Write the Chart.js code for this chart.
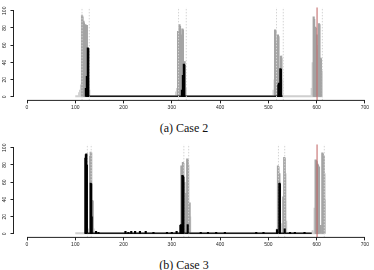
<!DOCTYPE html>
<html>
<head>
<meta charset="utf-8">
<script src="https://cdn.jsdelivr.net/npm/chart.js@4"></script>
<style>
  body { margin: 0; width: 374px; height: 270px; overflow: hidden; background: #fff; position: relative; }
  canvas { position: absolute; left: 0; }
  #c2 { top: 0; }
  #c3 { top: 137px; }
  .cap { position: absolute; left: 0; width: 368px; text-align: center; font: 12px "Liberation Serif", serif; color: #111; }
</style>
</head>
<body>
<canvas id="c2" width="374" height="115"></canvas>
<canvas id="c3" width="374" height="115"></canvas>
<div class="cap" style="top:121px">(a) Case 2</div>
<div class="cap" style="top:258px">(b) Case 3</div>
<script>
// axis ticks (same for both panels)
var xTicks = [0, 100, 200, 300, 400, 500, 600, 700];
var yTicks = [0, 20, 40, 60, 80, 100];

// case 2
var case2LightX = [108, 110, 112, 119, 121, 127, 129, 309, 311, 318, 320, 324, 327, 329, 511, 513, 520, 524, 527, 529, 590, 592, 600, 602, 604, 609, 611];
var case2LightY = [5, 8, 14, 24, 30, 20, 8, 6, 10, 24, 30, 40, 41, 10, 8, 20, 30, 22, 48, 20, 10, 40, 60, 55, 35, 45, 30];
var case2GrayX = [114, 115, 117, 118, 121, 123, 124, 313, 314, 316, 317, 320, 322, 323, 325, 326, 514, 515, 517, 518, 520, 521, 526, 527, 594, 595, 597, 598, 600, 605, 606, 608, 609];
var case2GrayY = [95, 93, 88, 86, 84, 83, 83, 76, 74, 84, 82, 72, 79, 78, 40, 41, 78, 76, 64, 62, 72, 70, 47, 45, 93, 90, 81, 80, 72, 85, 84, 45, 44];
var case2BlackX = [122, 124, 126, 127, 321, 323, 325, 326, 521, 522, 525, 526];
var case2BlackY = [10, 24, 57, 56, 8, 25, 38, 37, 14, 16, 33, 32];
var case2LightFloor = [100, 612];
var case2BlackFloor = [126, 530];
var case2Guides = [114, 129, 314, 330, 517, 531, 612];
var case2Marker = 601;

// case 3
var case3LightX = [126, 128, 136, 138, 318, 327, 338, 518, 526, 528, 537, 592, 596, 607, 609, 617];
var case3LightY = [6, 4, 20, 6, 10, 30, 20, 6, 10, 12, 15, 4, 30, 10, 10, 40];
var case3GrayX = [131, 132, 133, 135, 136, 320, 321, 323, 324, 326, 330, 332, 333, 334, 337, 520, 521, 523, 531, 533, 534, 535, 598, 599, 600, 602, 603, 605, 608, 612, 613, 615, 616];
var case3GrayY = [90, 95, 94, 39, 38, 79, 78, 83, 82, 60, 47, 87, 86, 80, 36, 79, 78, 70, 43, 89, 88, 70, 86, 85, 84, 81, 80, 78, 10, 94, 93, 90, 70];
var case3BlackX = [121, 122, 123, 124, 132, 133, 134, 143, 148, 204, 210, 216, 224, 234, 246, 262, 290, 300, 310, 318, 319, 322, 323, 324, 333, 360, 375, 392, 410, 475, 490, 518, 523, 524, 534, 545, 555, 575];
var case3BlackY = [88, 92, 93, 80, 59, 58, 20, 3, 2, 3, 2, 3, 3, 3, 3, 2, 2, 2, 3, 10, 11, 68, 67, 66, 11, 2, 2, 2, 2, 2, 2, 5, 59, 58, 6, 2, 2, 2];
var case3LightFloor = [100, 617];
var case3BlackFloor = [120, 590];
var case3Guides = [125, 133, 325, 335, 521, 534, 616];
var case3Marker = 601;

function pts(xs, ys) {
  return xs.map(function (x, i) { return {x: x, y: ys[i]}; });
}

// R-style axes: lines only from first to last tick, rotated y labels
var rAxes = {
  id: 'rAxes',
  afterDraw: function (chart) {
    var ctx = chart.ctx, x = chart.scales.x, y = chart.scales.y;
    ctx.save();
    ctx.strokeStyle = '#222';
    ctx.lineWidth = 1;
    ctx.beginPath();
    ctx.moveTo(x.getPixelForValue(xTicks[0]), x.top);
    ctx.lineTo(x.getPixelForValue(xTicks[xTicks.length - 1]), x.top);
    ctx.moveTo(y.right, y.getPixelForValue(yTicks[0]));
    ctx.lineTo(y.right, y.getPixelForValue(yTicks[yTicks.length - 1]));
    ctx.stroke();
    ctx.fillStyle = '#222';
    ctx.font = '5px "Liberation Sans"';
    ctx.textAlign = 'center';
    ctx.textBaseline = 'middle';
    yTicks.forEach(function (v) {
      ctx.save();
      ctx.translate(5, y.getPixelForValue(v));
      ctx.rotate(-Math.PI / 2);
      ctx.fillText(String(v), 0, 0);
      ctx.restore();
    });
    ctx.restore();
  }
};

function panel(id, light, gray, black, lightFloor, blackFloor, guides, marker) {
  var sets = [];
  sets.push({type: 'line', data: [{x: marker, y: -4}, {x: marker, y: 104}], borderColor: '#c06060', borderWidth: 1, pointRadius: 0, order: 0});
  sets.push({data: black, backgroundColor: '#000', barThickness: 1.5, order: 1});
  guides.forEach(function (g) {
    sets.push({type: 'line', data: [{x: g, y: -4}, {x: g, y: 104}], borderColor: '#d4d4d4', borderWidth: 1, borderDash: [1.5, 1.5], pointRadius: 0, order: 2});
  });
  sets.push({type: 'line', data: [{x: blackFloor[0], y: 0.9}, {x: blackFloor[1], y: 0.9}], borderColor: '#1a1a1a', borderWidth: 1.5, pointRadius: 0, order: 3});
  sets.push({data: gray, backgroundColor: '#a4a4a4', barThickness: 1.5, order: 4});
  sets.push({data: light, backgroundColor: '#d2d2d2', barThickness: 1.5, order: 5});
  sets.push({type: 'line', data: [{x: lightFloor[0], y: 0.9}, {x: lightFloor[1], y: 0.9}], borderColor: '#cfcfcf', borderWidth: 2, pointRadius: 0, order: 6});

  new Chart(document.getElementById(id), {
    type: 'bar',
    data: {datasets: sets},
    plugins: [rAxes],
    options: {
      responsive: false,
      animation: false,
      grouped: false,
      layout: {padding: {top: 7.3, left: 0, right: 0, bottom: 0}},
      plugins: {legend: {display: false}, tooltip: {enabled: false}},
      scales: {
        x: {
          type: 'linear', min: -28, max: 719, offset: false,
          afterBuildTicks: function (s) { s.ticks = xTicks.map(function (v) { return {value: v}; }); },
          afterFit: function (s) { s.height = 14.6; },
          border: {display: false},
          grid: {offset: false, drawOnChartArea: false, drawTicks: true, tickLength: 3, color: '#222'},
          ticks: {font: {family: 'Liberation Sans', size: 5}, color: '#222', padding: 1.5, maxRotation: 0, autoSkip: false}
        },
        y: {
          type: 'linear', min: -4, max: 104,
          afterBuildTicks: function (s) { s.ticks = yTicks.map(function (v) { return {value: v}; }); },
          afterFit: function (s) { s.width = 13.5; },
          border: {display: false},
          grid: {drawOnChartArea: false, drawTicks: true, tickLength: 3, color: '#222'},
          ticks: {display: false}
        }
      }
    }
  });
}

panel('c2', pts(case2LightX, case2LightY), pts(case2GrayX, case2GrayY), pts(case2BlackX, case2BlackY),
  case2LightFloor, case2BlackFloor, case2Guides, case2Marker);
panel('c3', pts(case3LightX, case3LightY), pts(case3GrayX, case3GrayY), pts(case3BlackX, case3BlackY),
  case3LightFloor, case3BlackFloor, case3Guides, case3Marker);
</script>
</body>
</html>
